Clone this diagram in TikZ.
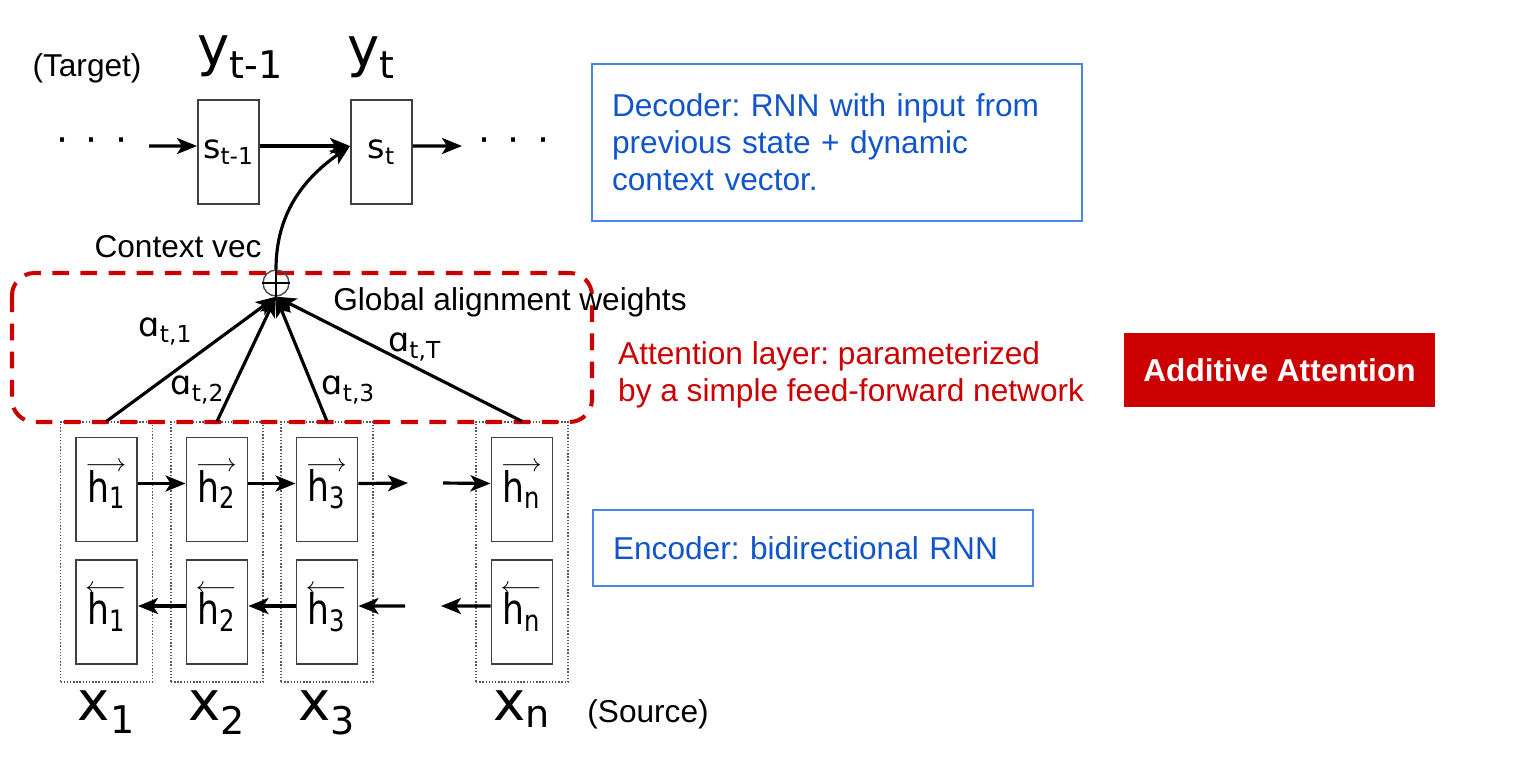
\documentclass[tikz,border=0pt]{standalone}
\usepackage{fontspec}
\setmainfont{Liberation Sans}
\newfontfamily\dejavu{DejaVu Sans}
\newfontfamily\dejavunarrow[FakeStretch=0.82]{DejaVu Sans}
\usetikzlibrary{positioning}
\usetikzlibrary{calc}
\usetikzlibrary{arrows.meta}
\frenchspacing

\definecolor{noteblue}{HTML}{1155CC}
\definecolor{frameblue}{HTML}{4A86E8}
\definecolor{attnred}{HTML}{CC0000}

\newcommand{\notefont}{\fontsize{18}{21}\selectfont}
\newcommand{\statefont}{\dejavu\fontsize{19}{19}\selectfont}
\newcommand{\hidfont}{\dejavunarrow\fontsize{24}{24}\selectfont}
\newcommand{\wordfont}{\dejavu\fontsize{31}{31}\selectfont}
\newcommand{\wtfont}{\dejavu\fontsize{19}{19}\selectfont}
% small arrow set above the h of a hidden state
\newcommand{\hdir}[1]{\rlap{\smash{\raisebox{0.72em}{\kern-0.05em\fontsize{14}{14}\selectfont$#1$}}}}
\newcommand{\fw}[1]{\hdir{\longrightarrow}h\textsubscript{#1}}
\newcommand{\bw}[1]{\hdir{\longleftarrow}h\textsubscript{#1}}

\begin{document}
\begin{tikzpicture}[x=0.02cm, y=-0.02cm,
  >={Stealth[length=0.4cm, width=0.32cm, inset=0.1cm]},
  cell/.style={draw=black!75, line width=1.1pt, minimum width=1.22cm,
    minimum height=2.08cm, inner sep=0pt},
  column/.style={draw=black!65, densely dotted, line width=0.8pt,
    minimum width=1.84cm, minimum height=5.2cm},
  arr/.style={->, line width=1.8pt},
  infobox/.style={draw=frameblue, line width=1pt, text=noteblue,
    font=\notefont, align=left, inner xsep=0.4cm},
  attnbox/.style={draw=attnred, line width=2.3pt,
    dash pattern=on 9.5pt off 6.5pt, rounded corners=0.45cm}]
  \useasboundingbox (0,0) rectangle (1524,772);

    %----------------------------------------------------------
    % Decoder
    %----------------------------------------------------------
  \node[font=\notefont] (tgt) at (87,68) {(Target)};
  \node[cell, font=\statefont] (s1) at (228.5,152) {s\textsubscript{t-1}};
  \node[cell, font=\statefont] (s2) at (381.5,152) {s\textsubscript{t}};
  \node[inner sep=0pt, font=\wordfont, above=0.4cm of s1, xshift=0.24cm] (y1) {y\textsubscript{t-1}};
  \node[inner sep=0pt, font=\wordfont, above=0.4cm of s2, xshift=-0.2cm] (y2) {y\textsubscript{t}};

  \node[font=\fontsize{24}{24}\selectfont] (ldots) at (92,145) {·\hspace{8.7pt}·\hspace{8.7pt}·};
  \node[font=\fontsize{24}{24}\selectfont] (rdots) at (514,145) {·\hspace{8.7pt}·\hspace{8.7pt}·};
  \coordinate (din) at (149,146);
  \coordinate (dout) at (462,146);
  \draw[arr] (din) -- ([yshift=.12cm]s1.west);
  \draw[arr] ([yshift=.12cm]s1.east) -- ([yshift=.12cm]s2.west);
  \draw[arr] ([yshift=.12cm]s2.east) -- (dout);

    %----------------------------------------------------------
    % Encoder columns
    %----------------------------------------------------------
  \node[column] (c1) at (106.5,552) {};
  \node[column] (c2) at (217,552) {};
  \node[column] (c3) at (327,552) {};
  \node[column] (cn) at (522,552) {};

  \node[cell, font=\hidfont] (f1) at (106.5,489.5) {\fw{1}};
  \node[cell, font=\hidfont] (f2) at (217,489.5) {\fw{2}};
  \node[cell, font=\hidfont] (f3) at (327,489.5) {\fw{3}};
  \node[cell, font=\hidfont] (fn) at (522,489.5) {\fw{n}};
  \node[cell, font=\hidfont] (b1) at (106.5,612) {\bw{1}};
  \node[cell, font=\hidfont] (b2) at (217,612) {\bw{2}};
  \node[cell, font=\hidfont] (b3) at (327,612) {\bw{3}};
  \node[cell, font=\hidfont] (bn) at (522,612) {\bw{n}};

  \coordinate (fgap1) at (408,483);
  \coordinate (fgap2) at (443,483);
  \coordinate (bgap1) at (405,606);
  \coordinate (bgap2) at (441,606);
  \draw[arr] ([yshift=.12cm]f1.east) -- ([yshift=.12cm]f2.west);
  \draw[arr] ([yshift=.12cm]f2.east) -- ([yshift=.12cm]f3.west);
  \draw[arr] ([yshift=.12cm]f3.east) -- (fgap1);
  \draw[arr] (fgap2) -- ([yshift=.12cm]fn.west);
  \draw[arr] ([yshift=.12cm]b2.west) -- ([yshift=.12cm]b1.east);
  \draw[arr] ([yshift=.12cm]b3.west) -- ([yshift=.12cm]b2.east);
  \draw[arr] (bgap1) -- ([yshift=.12cm]b3.east);
  \draw[arr] ([yshift=.12cm]bn.west) -- (bgap2);

  \node[inner sep=0pt, font=\wordfont, below=0.16cm of c1] (x1) {x\textsubscript{1}};
  \node[inner sep=0pt, font=\wordfont, below=0.16cm of c2] (x2) {x\textsubscript{2}};
  \node[inner sep=0pt, font=\wordfont, below=0.16cm of c3] (x3) {x\textsubscript{3}};
  \node[inner sep=0pt, font=\wordfont, below=0.16cm of cn] (xn) {x\textsubscript{n}};
  \node[font=\notefont] (src) at (648,714) {(Source)};

    %----------------------------------------------------------
    % Attention layer
    %----------------------------------------------------------
  \draw[attnbox] (12,273) rectangle (592,422);
  \node[circle, draw=black!70, line width=0.8pt, minimum size=0.52cm,
    inner sep=0pt] (plus) at (276,283) {};
  \draw[line width=1.3pt] (plus.north) -- (plus.south) (plus.west) -- (plus.east);
  \draw[arr] (plus.north) to[out=90, in=215] ([yshift=.12cm]s2.west);

  \draw[arr] (c1.north) -- node[pos=.55, above left, font=\wtfont] (a1) {ɑ\textsubscript{t,1}} (plus.south);
  \draw[arr] (c2.north) -- node[pos=.25, left, font=\wtfont] (a2) {ɑ\textsubscript{t,2}} (plus.south);
  \draw[arr] (c3.north) -- node[pos=.25, right, font=\wtfont] (a3) {ɑ\textsubscript{t,3}} (plus.south);
  \draw[arr] (cn.north) -- node[pos=.55, anchor=west, inner sep=0pt, yshift=0.12cm, font=\wtfont] (aT) {ɑ\textsubscript{t,T}} (plus.south);

  \node[font=\notefont] (ctx) at (178,247) {Context vec};
  \node[font=\notefont] (glob) at (510,302) {Global alignment weights};

    %----------------------------------------------------------
    % Notes
    %----------------------------------------------------------
  \node[infobox, text width=9cm, minimum height=3.14cm] (dec) at (837,142.5)
    {Decoder: RNN with input from\\previous state + dynamic\\context vector.};
  \node[infobox, text width=8cm, minimum height=1.52cm] (enc) at (813,548)
    {Encoder: bidirectional RNN};
  \node[font=\notefont, text=attnred, align=left, anchor=west] (attn) at (612,375)
    {Attention layer: parameterized\\by a simple feed-forward network};
  \node[fill=attnred, text=white, font=\notefont\bfseries, minimum width=6.22cm,
    minimum height=1.48cm] (add) at (1279.5,370) {Additive Attention};
\end{tikzpicture}
\end{document}
